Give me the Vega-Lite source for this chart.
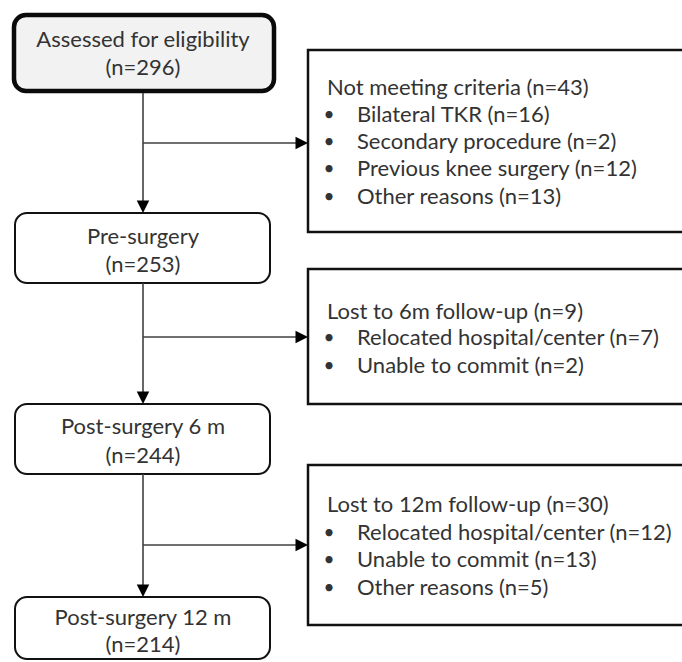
{
  "$schema": "https://vega.github.io/schema/vega-lite/v6.json",
  "width": 682,
  "height": 662,
  "autosize": {"type": "fit", "contains": "padding"},
  "padding": 0,
  "background": "white",
  "config": {"view": {"stroke": null}},
  "datasets": {
    "nodes": [
      {"name": "Assessed", "kind": "start", "x0": 14, "x1": 274, "y0": 15, "y1": 91},
      {"name": "Pre-surgery", "kind": "stage", "x0": 15, "x1": 270, "y0": 213, "y1": 283},
      {"name": "Post 6 m", "kind": "stage", "x0": 15, "x1": 270, "y0": 404, "y1": 474},
      {"name": "Post 12 m", "kind": "stage", "x0": 15, "x1": 270, "y0": 597, "y1": 659},
      {"name": "Not meeting", "kind": "exclusion", "x0": 308, "x1": 700, "y0": 50, "y1": 232},
      {"name": "Lost 6m", "kind": "exclusion", "x0": 308, "x1": 700, "y0": 269, "y1": 404},
      {"name": "Lost 12m", "kind": "exclusion", "x0": 308, "x1": 700, "y0": 465, "y1": 625}
    ],
    "edges": [
      {"x": 143, "y": 93, "x2": 143, "y2": 208},
      {"x": 143, "y": 143, "x2": 302, "y2": 143},
      {"x": 143, "y": 283, "x2": 143, "y2": 399},
      {"x": 143, "y": 337, "x2": 302, "y2": 337},
      {"x": 143, "y": 474, "x2": 143, "y2": 592},
      {"x": 143, "y": 545, "x2": 302, "y2": 545}
    ],
    "heads": [
      {"x": 143, "y": 213, "dir": "down"},
      {"x": 308, "y": 143, "dir": "right"},
      {"x": 143, "y": 404, "dir": "down"},
      {"x": 308, "y": 337, "dir": "right"},
      {"x": 143, "y": 597, "dir": "down"},
      {"x": 308, "y": 545, "dir": "right"}
    ],
    "centers": [
      {"text": "Assessed for eligibility", "x": 143, "y": 40},
      {"text": "(n=296)", "x": 143, "y": 68},
      {"text": "Pre-surgery", "x": 143, "y": 237},
      {"text": "(n=253)", "x": 143, "y": 265},
      {"text": "Post-surgery 6 m", "x": 143, "y": 427},
      {"text": "(n=244)", "x": 143, "y": 456},
      {"text": "Post-surgery 12 m", "x": 143, "y": 618},
      {"text": "(n=214)", "x": 143, "y": 645}
    ],
    "headers": [
      {"text": "Not meeting criteria (n=43)", "x": 327, "y": 88},
      {"text": "Lost to 6m follow-up (n=9)", "x": 327, "y": 312},
      {"text": "Lost to 12m follow-up (n=30)", "x": 327, "y": 505}
    ],
    "items": [
      {"text": "Bilateral TKR (n=16)", "xb": 329, "x": 357, "y": 115},
      {"text": "Secondary procedure (n=2)", "xb": 329, "x": 357, "y": 142},
      {"text": "Previous knee surgery (n=12)", "xb": 329, "x": 357, "y": 169},
      {"text": "Other reasons (n=13)", "xb": 329, "x": 357, "y": 197},
      {"text": "Relocated hospital/center (n=7)", "xb": 329, "x": 357, "y": 338},
      {"text": "Unable to commit (n=2)", "xb": 329, "x": 357, "y": 366},
      {"text": "Relocated hospital/center (n=12)", "xb": 329, "x": 357, "y": 533},
      {"text": "Unable to commit (n=13)", "xb": 329, "x": 357, "y": 560},
      {"text": "Other reasons (n=5)", "xb": 329, "x": 357, "y": 588}
    ]
  },
  "layer": [
    {
      "data": {"name": "nodes"},
      "transform": [{"filter": "datum.kind === 'start'"}],
      "mark": {"type": "rect", "cornerRadius": 12, "fill": "#f2f2f2", "stroke": "#0a0a0a", "strokeWidth": 4.5},
      "encoding": {
        "x": {"field": "x0", "type": "quantitative", "scale": {"domain": [0, 682], "nice": false, "zero": false}, "axis": null},
        "x2": {"field": "x1"},
        "y": {"field": "y0", "type": "quantitative", "scale": {"domain": [0, 662], "nice": false, "zero": false, "reverse": true}, "axis": null},
        "y2": {"field": "y1"}
      }
    },
    {
      "data": {"name": "nodes"},
      "transform": [{"filter": "datum.kind === 'stage'"}],
      "mark": {"type": "rect", "cornerRadius": 12, "fill": "white", "stroke": "#111111", "strokeWidth": 2},
      "encoding": {
        "x": {"field": "x0", "type": "quantitative", "scale": {"domain": [0, 682], "nice": false, "zero": false}, "axis": null},
        "x2": {"field": "x1"},
        "y": {"field": "y0", "type": "quantitative", "scale": {"domain": [0, 662], "nice": false, "zero": false, "reverse": true}, "axis": null},
        "y2": {"field": "y1"}
      }
    },
    {
      "data": {"name": "nodes"},
      "transform": [{"filter": "datum.kind === 'exclusion'"}],
      "mark": {"type": "rect", "fill": "white", "stroke": "#111111", "strokeWidth": 2.5, "clip": true},
      "encoding": {
        "x": {"field": "x0", "type": "quantitative", "scale": {"domain": [0, 682], "nice": false, "zero": false}, "axis": null},
        "x2": {"field": "x1"},
        "y": {"field": "y0", "type": "quantitative", "scale": {"domain": [0, 662], "nice": false, "zero": false, "reverse": true}, "axis": null},
        "y2": {"field": "y1"}
      }
    },
    {
      "data": {"name": "edges"},
      "mark": {"type": "rule", "color": "#404040", "strokeWidth": 1.6},
      "encoding": {
        "x": {"field": "x", "type": "quantitative", "scale": {"domain": [0, 682], "nice": false, "zero": false}, "axis": null},
        "x2": {"field": "x2"},
        "y": {"field": "y", "type": "quantitative", "scale": {"domain": [0, 662], "nice": false, "zero": false, "reverse": true}, "axis": null},
        "y2": {"field": "y2"}
      }
    },
    {
      "data": {"name": "heads"},
      "mark": {"type": "point", "filled": true, "opacity": 1, "color": "#000000", "size": 156},
      "encoding": {
        "x": {"field": "x", "type": "quantitative", "scale": {"domain": [0, 682], "nice": false, "zero": false}, "axis": null},
        "y": {"field": "y", "type": "quantitative", "scale": {"domain": [0, 662], "nice": false, "zero": false, "reverse": true}, "axis": null},
        "shape": {"field": "dir", "type": "nominal", "scale": {"domain": ["down", "right"], "range": ["M-1,-2H1L0,0Z", "M-2,-1V1L0,0Z"]}, "legend": null}
      }
    },
    {
      "data": {"name": "centers"},
      "mark": {"type": "text", "align": "center", "baseline": "middle", "font": "Lato", "fontSize": 22, "color": "#333333"},
      "encoding": {
        "x": {"field": "x", "type": "quantitative", "scale": {"domain": [0, 682], "nice": false, "zero": false}, "axis": null},
        "y": {"field": "y", "type": "quantitative", "scale": {"domain": [0, 662], "nice": false, "zero": false, "reverse": true}, "axis": null},
        "text": {"field": "text"}
      }
    },
    {
      "data": {"name": "headers"},
      "mark": {"type": "text", "align": "left", "baseline": "middle", "font": "Lato", "fontSize": 22, "color": "#333333"},
      "encoding": {
        "x": {"field": "x", "type": "quantitative", "scale": {"domain": [0, 682], "nice": false, "zero": false}, "axis": null},
        "y": {"field": "y", "type": "quantitative", "scale": {"domain": [0, 662], "nice": false, "zero": false, "reverse": true}, "axis": null},
        "text": {"field": "text"}
      }
    },
    {
      "data": {"name": "items"},
      "mark": {"type": "text", "align": "center", "baseline": "middle", "font": "Lato", "fontSize": 19, "color": "#333333"},
      "encoding": {
        "x": {"field": "xb", "type": "quantitative", "scale": {"domain": [0, 682], "nice": false, "zero": false}, "axis": null},
        "y": {"field": "y", "type": "quantitative", "scale": {"domain": [0, 662], "nice": false, "zero": false, "reverse": true}, "axis": null},
        "text": {"value": "•"}
      }
    },
    {
      "data": {"name": "items"},
      "mark": {"type": "text", "align": "left", "baseline": "middle", "font": "Lato", "fontSize": 22, "color": "#333333"},
      "encoding": {
        "x": {"field": "x", "type": "quantitative", "scale": {"domain": [0, 682], "nice": false, "zero": false}, "axis": null},
        "y": {"field": "y", "type": "quantitative", "scale": {"domain": [0, 662], "nice": false, "zero": false, "reverse": true}, "axis": null},
        "text": {"field": "text"}
      }
    }
  ]
}
